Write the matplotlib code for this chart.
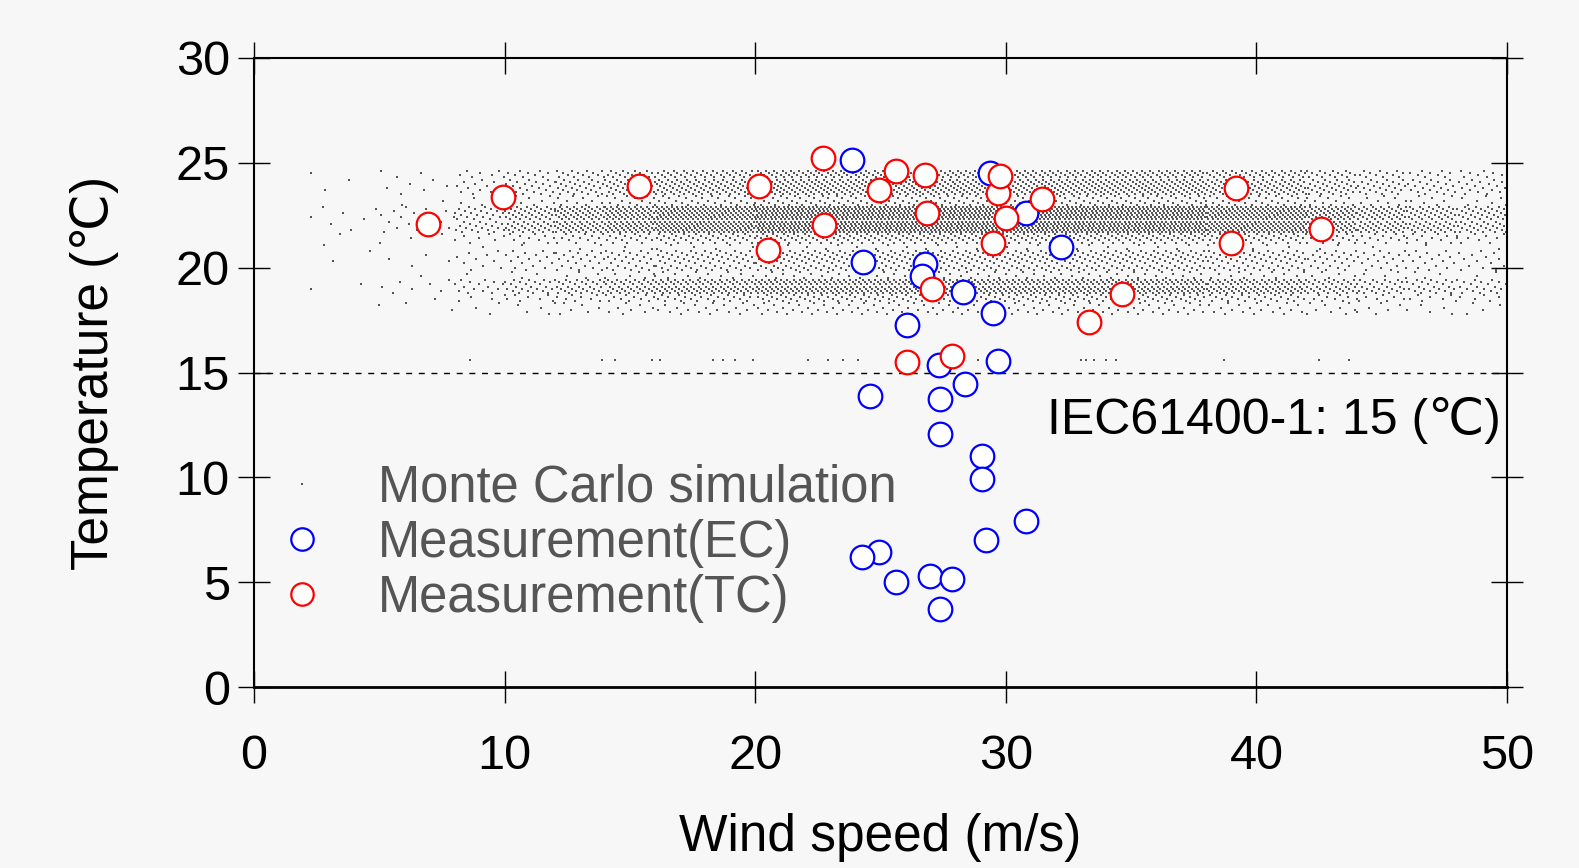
"""Wind speed vs temperature: Monte Carlo cloud and EC/TC measurements."""
import matplotlib
matplotlib.use("Agg")
import matplotlib.pyplot as plt
import numpy as np

plt.rcParams["font.family"] = ["Liberation Sans", "DejaVu Sans"]

# Measurement (EC), wind speed m/s and temperature degC
ec_wind = [23.85, 29.37, 30.8, 32.2, 24.32, 26.78, 26.64, 28.3, 29.47, 26.04, 27.35, 29.7, 28.37,
           24.58, 27.37, 27.37, 29.06, 29.06, 30.82, 29.2, 24.95, 24.28, 25.6, 26.98, 27.87, 27.37]
ec_temp = [25.15, 24.5, 22.62, 20.98, 20.26, 20.19, 19.6, 18.82, 17.83, 17.27, 15.37, 15.57, 14.46,
           13.9, 13.75, 12.08, 11.0, 9.93, 7.9, 7.02, 6.46, 6.19, 5.03, 5.3, 5.14, 3.73]

# Measurement (TC)
tc_wind = [6.93, 9.92, 15.36, 20.16, 20.52, 22.72, 22.75, 24.94, 25.62, 26.78, 26.84, 27.07,
           26.04, 27.87, 29.47, 29.7, 29.77, 30.0, 31.46, 33.32, 34.62, 38.97, 39.19, 42.56]
tc_temp = [22.1, 23.36, 23.9, 23.9, 20.83, 25.24, 22.05, 23.7, 24.6, 24.44, 22.6, 18.97,
           15.48, 15.79, 21.2, 23.55, 24.36, 22.36, 23.26, 17.4, 18.75, 21.2, 23.8, 21.84]

# Monte Carlo cloud read as bands (rows every 0.1 degC) with a dot density per m/s
mc_band_lo = [17.8, 18.4, 18.8, 19.5, 19.9, 20.9, 21.2, 21.7, 23.0, 23.5, 24.3]
mc_band_hi = [18.3, 18.7, 19.4, 19.8, 20.8, 21.1, 21.6, 22.9, 23.4, 24.2, 24.6]
mc_band_density = [1.0, 1.8, 4.0, 0.9, 2.0, 0.5, 2.4, 6.0, 1.8, 3.2, 3.0]
mc_wind_edges = [2, 5, 8, 10, 12, 14, 16, 20, 38, 42, 44, 46, 48, 50]
mc_wind_weight = [0.03, 0.08, 0.26, 0.42, 0.56, 0.7, 0.85, 1.0, 0.85, 0.65, 0.5, 0.42, 0.36]
# isolated simulated points just above 15 degC
mc_sparse_wind = [8.6, 13.9, 14.4, 15.9, 16.2, 18.3, 18.7, 19.2, 19.9, 22.1, 22.9, 23.5, 24.1,
                  28.9, 33.0, 33.2, 33.5, 34.0, 34.4, 38.7, 42.5, 43.7]
mc_sparse_temp = 15.6

iec_temp = 15
x_ticks = [0, 10, 20, 30, 40, 50]
y_ticks = [0, 5, 10, 15, 20, 25, 30]


def monte_carlo_cloud():
    xs, ys = [], []
    row = 0
    for lo, hi, dens in zip(mc_band_lo, mc_band_hi, mc_band_density):
        for t in np.arange(lo, hi + 1e-6, 0.1):
            row += 1
            for k, (a, b, w) in enumerate(zip(mc_wind_edges[:-1], mc_wind_edges[1:], mc_wind_weight)):
                step = 1.0 / (dens * w)
                start = a + ((row * 0.618 + k * 0.377) % 1.0) * step
                pts = np.arange(start, b, step)
                xs.extend(pts)
                ys.extend([t] * len(pts))
    xs.extend(mc_sparse_wind)
    ys.extend([mc_sparse_temp] * len(mc_sparse_wind))
    return xs, ys


bg = "#f7f7f7"
fig = plt.figure(figsize=(15.79, 8.68), dpi=100, facecolor=bg)
ax = fig.add_axes([0.1609, 0.2085, 0.7935, 0.7247], facecolor=bg)

mc_x, mc_y = monte_carlo_cloud()
ax.plot(mc_x, mc_y, "s", ms=1.8, mew=0, color="#555555", label="Monte Carlo simulation", zorder=2)
ax.axhline(iec_temp, color="black", lw=1.0, ls=(0, (4.3, 4.8)), zorder=1)
ax.plot(ec_wind, ec_temp, "o", ms=17, mfc="white", mec="#0000ff", mew=1.6,
        label="Measurement(EC)", zorder=3)
ax.plot(tc_wind, tc_temp, "o", ms=17, mfc="white", mec="#ff0000", mew=1.6,
        label="Measurement(TC)", zorder=4)

ax.text(49.75, 12.7, "IEC61400-1: 15 (℃)", ha="right", va="center", fontsize=36, color="black")

ax.set_xlim(0, 50)
ax.set_ylim(0, 30)
ax.set_xticks(x_ticks)
ax.set_yticks(y_ticks)
ax.tick_params(direction="inout", length=23, width=1.0, top=True, right=True,
               labelsize=35, colors="black")
ax.tick_params(axis="x", pad=22)
ax.tick_params(axis="y", pad=6)
for side in ["left", "right", "top"]:
    ax.spines[side].set_linewidth(1.5)
ax.spines["bottom"].set_linewidth(2.0)

ax.set_xlabel("Wind speed (m/s)", fontsize=37)
ax.set_ylabel("Temperature (℃)", fontsize=37)
ax.xaxis.set_label_coords(0.5, -0.2)
ax.yaxis.set_label_coords(-0.108, 0.5)

leg = ax.legend(loc="center left", bbox_to_anchor=(277 / 1579, 1 - 543 / 868),
                bbox_transform=fig.transFigure, frameon=False, fontsize=36.5,
                numpoints=1, handlelength=1.0, handletextpad=0.99, labelspacing=0.12,
                borderpad=0, borderaxespad=0, markerscale=0.95)
for txt in leg.get_texts():
    txt.set_color("#555555")

fig.savefig("out.png", dpi=100, facecolor=bg)
